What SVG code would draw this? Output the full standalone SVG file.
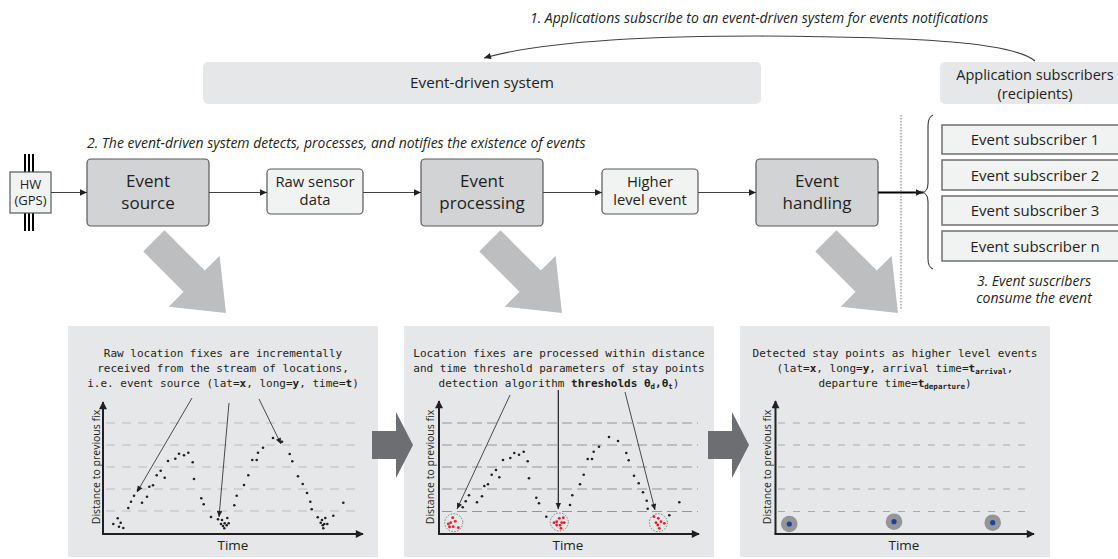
<svg xmlns="http://www.w3.org/2000/svg" width="1118" height="559" viewBox="0 0 1118 559">
<style>
.t{font-family:"Open Sans","Liberation Sans",sans-serif;fill:#231f20}
.it{font-family:"Open Sans","Liberation Sans",sans-serif;font-style:italic;font-size:14px;fill:#231f20}
.mono{font-family:"DejaVu Sans Mono","Liberation Mono",monospace;font-size:11px;fill:#231f20}
.b{font-weight:bold}
.sb{font-size:7.5px;font-weight:bold}
.big{fill:#d1d3d4;stroke:#58595b;stroke-width:1.2}
.sm{fill:#f1f2f2;stroke:#58595b;stroke-width:1.2}
.sub{fill:#f1f2f2;stroke:#6d6e71;stroke-width:1.5}
.grp{fill:#e6e7e8}
.conn{fill:none;stroke:#414042;stroke-width:1.2}
.pin{stroke:#000;stroke-width:2}
.ax{stroke:#231f20;stroke-width:2;fill:none}
.g1{stroke:#bcbec0;stroke-width:1.2;stroke-dasharray:9 7}
.g2{stroke:#939598;stroke-width:1.2;stroke-dasharray:10 5}
.g3{stroke:#a7a9ac;stroke-width:1.2;stroke-dasharray:7 8}
.pa{stroke:#231f20;stroke-width:0.8;fill:none}
.k circle{fill:#231f20}
.r circle{fill:#ed1c24}
.dc{fill:none;stroke:#6d6e71;stroke-width:0.9;stroke-dasharray:1.5 1.5}
.garrow{fill:#bcbec0}
.darrow{fill:#6d6e71}
</style>
<defs>
<marker id="ah" viewBox="0 0 10 10" refX="10" refY="5" markerWidth="8" markerHeight="7" markerUnits="userSpaceOnUse" orient="auto"><path d="M0,0.5 L10,5 L0,9.5 z" fill="#231f20"/></marker>
<marker id="pah" viewBox="0 0 10 10" refX="10" refY="5" markerWidth="7" markerHeight="6" markerUnits="userSpaceOnUse" orient="auto"><path d="M0,0.5 L10,5 L0,9.5 z" fill="#231f20"/></marker>
<marker id="axh" viewBox="0 0 10 10" refX="9" refY="5" markerWidth="9" markerHeight="8" markerUnits="userSpaceOnUse" orient="auto"><path d="M0,0 L10,5 L0,10 z" fill="#231f20"/></marker>
<polygon id="bigarrow" points="0,0 -45,-36 -45,-15 -102,-15 -102,15 -45,15 -45,36"/>
</defs>

<!-- top captions -->
<text class="it" x="530" y="23">1. Applications subscribe to an event-driven system for events notifications</text>
<text class="it" x="87" y="148">2. The event-driven system detects, processes, and notifies the existence of events</text>

<g id="event-driven-system">
<rect class="grp" x="203" y="62" width="558" height="42" rx="5"/>
<text class="t" x="482" y="88" font-size="15.3" text-anchor="middle">Event-driven system</text>
</g>
<g id="application-subscribers">
<rect class="grp" x="940" y="62" width="190" height="42" rx="5"/>
<text class="t" x="1035" y="80" font-size="14.5" text-anchor="middle">Application subscribers</text>
<text class="t" x="1035" y="98.5" font-size="14.5" text-anchor="middle">(recipients)</text>
</g>

<g id="hw-gps">
<line class="pin" x1="25" y1="154" x2="25" y2="172"/><line class="pin" x1="29" y1="154" x2="29" y2="172"/><line class="pin" x1="33" y1="154" x2="33" y2="172"/>
<line class="pin" x1="25" y1="213" x2="25" y2="231"/><line class="pin" x1="29" y1="213" x2="29" y2="231"/><line class="pin" x1="33" y1="213" x2="33" y2="231"/>
<rect class="sm" x="10" y="172" width="41" height="41"/>
<text class="t" x="30.5" y="189" font-size="13" text-anchor="middle">HW</text>
<text class="t" x="30.5" y="205" font-size="13" text-anchor="middle">(GPS)</text>
</g>
<g id="event-source">
<rect class="big" x="87" y="159" width="122" height="67" rx="4"/>
<text class="t" x="148" y="187" font-size="17" text-anchor="middle">Event</text>
<text class="t" x="148" y="209" font-size="17" text-anchor="middle">source</text>
</g>
<g id="raw-sensor-data">
<rect class="sm" x="267" y="169" width="96" height="45" rx="4"/>
<text class="t" x="315" y="187" font-size="14.8" text-anchor="middle">Raw sensor</text>
<text class="t" x="315" y="205" font-size="14.8" text-anchor="middle">data</text>
</g>
<g id="event-processing">
<rect class="big" x="421" y="159" width="122" height="67" rx="4"/>
<text class="t" x="482" y="187" font-size="17" text-anchor="middle">Event</text>
<text class="t" x="482" y="209" font-size="17" text-anchor="middle">processing</text>
</g>
<g id="higher-level-event">
<rect class="sm" x="602" y="169" width="96" height="45" rx="4"/>
<text class="t" x="650" y="187" font-size="14.8" text-anchor="middle">Higher</text>
<text class="t" x="650" y="205" font-size="14.8" text-anchor="middle">level event</text>
</g>
<g id="event-handling">
<rect class="big" x="756" y="159" width="122" height="67" rx="4"/>
<text class="t" x="817" y="187" font-size="17" text-anchor="middle">Event</text>
<text class="t" x="817" y="209" font-size="17" text-anchor="middle">handling</text>
</g>

<g id="subscriber-1"><rect class="sub" x="942" y="125" width="190" height="29"/><text class="t" x="1035" y="145" font-size="15" text-anchor="middle">Event subscriber 1</text></g>
<g id="subscriber-2"><rect class="sub" x="942" y="160" width="190" height="30"/><text class="t" x="1035" y="180.5" font-size="15" text-anchor="middle">Event subscriber 2</text></g>
<g id="subscriber-3"><rect class="sub" x="942" y="196" width="190" height="29"/><text class="t" x="1035" y="216" font-size="15" text-anchor="middle">Event subscriber 3</text></g>
<g id="subscriber-n"><rect class="sub" x="942" y="231" width="190" height="30"/><text class="t" x="1035" y="251.5" font-size="15" text-anchor="middle">Event subscriber n</text></g>

<text class="it" x="1034" y="286" text-anchor="middle" font-size="13">3. Event suscribers</text>
<text class="it" x="1034" y="303" text-anchor="middle" font-size="13">consume the event</text>

<g id="connectors">
<path class="conn" d="M1035,61 C1012,42 920,37 760,36 C640,36 540,42 484,58" marker-end="url(#ah)"/>
<line class="conn" x1="51" y1="192.5" x2="87" y2="192.5" marker-end="url(#ah)"/>
<line class="conn" x1="209" y1="192.5" x2="267" y2="192.5" marker-end="url(#ah)"/>
<line class="conn" x1="363" y1="192.5" x2="421" y2="192.5" marker-end="url(#ah)"/>
<line class="conn" x1="543" y1="192.5" x2="602" y2="192.5" marker-end="url(#ah)"/>
<line class="conn" x1="698" y1="192.5" x2="756" y2="192.5" marker-end="url(#ah)"/>
<line x1="878" y1="192.5" x2="923" y2="192.5" stroke="#000" stroke-width="2" marker-end="url(#ah)"/>
<line x1="901" y1="115" x2="901" y2="309" stroke="#6d6e71" stroke-width="1" stroke-dasharray="1.5 1.5"/>
<path d="M933,115 Q928,117 928,126 L928,183 Q928,192 922,192.5 Q928,193 928,202 L928,259 Q928,267 933,269" fill="none" stroke="#231f20" stroke-width="1"/>
</g>

<!-- big diagonal arrows -->
<use href="#bigarrow" class="garrow" transform="translate(226,313) rotate(45)"/>
<use href="#bigarrow" class="garrow" transform="translate(562,313) rotate(45)"/>
<use href="#bigarrow" class="garrow" transform="translate(898,313) rotate(45)"/>

<!-- panels -->
<rect class="grp" x="68" y="326" width="310" height="231"/>
<rect class="grp" x="404" y="326" width="310" height="231"/>
<rect class="grp" x="740" y="326" width="310" height="231"/>

<!-- dark arrows between panels -->
<polygon class="darrow" points="372,431 396,431 396,412 413,445 396,478 396,459 372,459"/>
<polygon class="darrow" points="708,431 732,431 732,412 749,445 732,478 732,459 708,459"/>

<!-- Panel 1 -->
<g id="panel-1">
<text class="mono" x="223" y="357" text-anchor="middle">Raw location fixes are incrementally</text>
<text class="mono" x="223" y="372" text-anchor="middle">received from the stream of locations,</text>
<text class="mono" x="223" y="387" text-anchor="middle">i.e. event source (lat=<tspan class="b">x</tspan>, long=<tspan class="b">y</tspan>, time=<tspan class="b">t</tspan>)</text>
<line class="g1" x1="106" y1="423" x2="358" y2="423"/>
<line class="g1" x1="106" y1="445" x2="358" y2="445"/>
<line class="g1" x1="106" y1="467" x2="358" y2="467"/>
<line class="g1" x1="106" y1="489" x2="358" y2="489"/>
<line class="g1" x1="106" y1="511" x2="358" y2="511"/>
<path class="ax" d="M103,534 L103,402" marker-end="url(#axh)"/>
<path class="ax" d="M102,534 L363,534" marker-end="url(#axh)"/>
<text class="t" x="100" y="467" font-size="10.5" text-anchor="middle" transform="rotate(-90 100 467)">Distance to previous fix</text>
<text class="t" x="233" y="550" font-size="13.5" text-anchor="middle">Time</text>
<g class="k">
<circle cx="113.3" cy="524" r="1.3"/><circle cx="117.7" cy="518.3" r="1.3"/><circle cx="120.7" cy="522.7" r="1.3"/><circle cx="119" cy="526.7" r="1.3"/><circle cx="123.3" cy="528" r="1.3"/>
<circle cx="128.3" cy="508" r="1.3"/><circle cx="131" cy="501.7" r="1.3"/><circle cx="134" cy="495.7" r="1.3"/><circle cx="138" cy="490" r="1.3"/><circle cx="142" cy="502.7" r="1.3"/><circle cx="147" cy="496.7" r="1.3"/><circle cx="149.3" cy="486.7" r="1.3"/><circle cx="153" cy="485.3" r="1.3"/><circle cx="156.7" cy="475.3" r="1.3"/><circle cx="160.7" cy="470.7" r="1.3"/><circle cx="164.7" cy="477.7" r="1.3"/><circle cx="168" cy="461" r="1.3"/><circle cx="175.3" cy="458.7" r="1.3"/><circle cx="179" cy="453.7" r="1.3"/><circle cx="184" cy="455.3" r="1.3"/><circle cx="188.3" cy="452.7" r="1.3"/><circle cx="192.7" cy="462.3" r="1.3"/><circle cx="194" cy="479" r="1.3"/><circle cx="201.3" cy="498.3" r="1.3"/><circle cx="203.7" cy="504.3" r="1.3"/><circle cx="211" cy="517" r="1.3"/>
<circle cx="218" cy="519.3" r="1.3"/><circle cx="222" cy="520" r="1.3"/><circle cx="224.7" cy="523.3" r="1.3"/><circle cx="227.3" cy="518" r="1.3"/><circle cx="221" cy="524" r="1.3"/><circle cx="223" cy="526" r="1.3"/><circle cx="228.7" cy="523.3" r="1.3"/><circle cx="224.3" cy="528.3" r="1.3"/><circle cx="226.7" cy="525.3" r="1.3"/>
<circle cx="234.3" cy="505.3" r="1.3"/><circle cx="236.7" cy="495.7" r="1.3"/><circle cx="244" cy="485" r="1.3"/><circle cx="248.3" cy="475.3" r="1.3"/><circle cx="252.3" cy="460" r="1.3"/><circle cx="256.7" cy="460" r="1.3"/><circle cx="258" cy="452.7" r="1.3"/><circle cx="263" cy="447.7" r="1.3"/><circle cx="273" cy="438" r="1.3"/><circle cx="282" cy="441.7" r="1.3"/><circle cx="289.7" cy="454" r="1.3"/><circle cx="292.3" cy="461.3" r="1.3"/><circle cx="298" cy="476.3" r="1.3"/><circle cx="302.7" cy="484" r="1.3"/><circle cx="307" cy="493" r="1.3"/><circle cx="310.3" cy="501.7" r="1.3"/><circle cx="311.7" cy="509.3" r="1.3"/><circle cx="317.7" cy="517.3" r="1.3"/>
<circle cx="322" cy="520" r="1.3"/><circle cx="325.3" cy="518" r="1.3"/><circle cx="320.7" cy="522.7" r="1.3"/><circle cx="324.3" cy="524" r="1.3"/><circle cx="327.3" cy="524" r="1.3"/><circle cx="322.7" cy="525.3" r="1.3"/><circle cx="323.3" cy="528.3" r="1.3"/>
<circle cx="333.3" cy="515.7" r="1.3"/><circle cx="343.3" cy="502.7" r="1.3"/>
</g>
<line class="pa" x1="192" y1="398" x2="137" y2="492" marker-end="url(#pah)"/>
<line class="pa" x1="229" y1="403" x2="219" y2="517" marker-end="url(#pah)"/>
<line class="pa" x1="259" y1="399" x2="281" y2="444" marker-end="url(#pah)"/>
</g>

<!-- Panel 2 -->
<g id="panel-2">
<text class="mono" x="559" y="357" text-anchor="middle">Location fixes are processed within distance</text>
<text class="mono" x="559" y="372" text-anchor="middle">and time threshold parameters of stay points</text>
<text class="mono" x="559" y="387" text-anchor="middle">detection algorithm <tspan class="b">thresholds θ<tspan class="sb" dy="2">d</tspan><tspan dy="-2">,θ</tspan><tspan class="sb" dy="2">t</tspan></tspan><tspan dy="-2">)</tspan></text>
<line class="g2" x1="442" y1="423" x2="698" y2="423"/>
<line class="g2" x1="442" y1="445" x2="698" y2="445"/>
<line class="g2" x1="442" y1="467" x2="698" y2="467"/>
<line class="g2" x1="442" y1="489" x2="698" y2="489"/>
<line class="g2" x1="442" y1="511.5" x2="698" y2="511.5"/>
<path class="ax" d="M439,534 L439,401" marker-end="url(#axh)"/>
<path class="ax" d="M438,534 L699,534" marker-end="url(#axh)"/>
<text class="t" x="434" y="467" font-size="10.5" text-anchor="middle" transform="rotate(-90 434 467)">Distance to previous fix</text>
<text class="t" x="568" y="550" font-size="13.5" text-anchor="middle">Time</text>
<g class="k">
<circle cx="462.7" cy="507.3" r="1.3"/><circle cx="465.7" cy="501.3" r="1.3"/><circle cx="469" cy="495.3" r="1.3"/><circle cx="477" cy="502.3" r="1.3"/><circle cx="482" cy="496.3" r="1.3"/><circle cx="484.3" cy="486" r="1.3"/><circle cx="488" cy="484.3" r="1.3"/><circle cx="491.7" cy="474.7" r="1.3"/><circle cx="496" cy="470" r="1.3"/><circle cx="499.3" cy="477.3" r="1.3"/><circle cx="503" cy="460" r="1.3"/><circle cx="510.3" cy="458" r="1.3"/><circle cx="514.3" cy="453" r="1.3"/><circle cx="519" cy="454.7" r="1.3"/><circle cx="523.7" cy="451.7" r="1.3"/><circle cx="527.7" cy="461.3" r="1.3"/><circle cx="529" cy="478.3" r="1.3"/><circle cx="536.3" cy="497.7" r="1.3"/><circle cx="539" cy="503.3" r="1.3"/><circle cx="546.3" cy="516.7" r="1.3"/>
<circle cx="570" cy="505" r="1.3"/><circle cx="572.3" cy="495.3" r="1.3"/><circle cx="580" cy="484.3" r="1.3"/><circle cx="583.7" cy="474.7" r="1.3"/><circle cx="587.7" cy="459" r="1.3"/><circle cx="592" cy="459" r="1.3"/><circle cx="593.7" cy="451.7" r="1.3"/><circle cx="599" cy="446.7" r="1.3"/><circle cx="609" cy="437" r="1.3"/><circle cx="618" cy="441" r="1.3"/><circle cx="626.3" cy="453" r="1.3"/><circle cx="628.7" cy="460.3" r="1.3"/><circle cx="634" cy="475.7" r="1.3"/><circle cx="638.7" cy="483.3" r="1.3"/><circle cx="643" cy="492.3" r="1.3"/><circle cx="646.7" cy="500.7" r="1.3"/><circle cx="647.7" cy="508.7" r="1.3"/><circle cx="669.3" cy="515.3" r="1.3"/><circle cx="679.3" cy="502.3" r="1.3"/>
</g>
<circle class="dc" cx="453.7" cy="522.7" r="9"/>
<circle class="dc" cx="559.3" cy="522" r="9"/>
<circle class="dc" cx="658.3" cy="522.7" r="9"/>
<g class="r">
<circle cx="448.3" cy="524" r="1.4"/><circle cx="450.7" cy="522.7" r="1.4"/><circle cx="452.7" cy="517.7" r="1.4"/><circle cx="455.3" cy="521.3" r="1.4"/><circle cx="453.3" cy="526.7" r="1.4"/><circle cx="458.3" cy="527.7" r="1.4"/><circle cx="449.5" cy="527" r="1.4"/>
<circle cx="554" cy="522.7" r="1.4"/><circle cx="556.7" cy="521.7" r="1.4"/><circle cx="559.3" cy="518.3" r="1.4"/><circle cx="563.3" cy="517.7" r="1.4"/><circle cx="561.7" cy="522.7" r="1.4"/><circle cx="564.3" cy="522.7" r="1.4"/><circle cx="556.7" cy="525" r="1.4"/><circle cx="560" cy="525.3" r="1.4"/><circle cx="561" cy="528.3" r="1.4"/>
<circle cx="654" cy="516.7" r="1.4"/><circle cx="658.3" cy="518.3" r="1.4"/><circle cx="656" cy="522.7" r="1.4"/><circle cx="661" cy="521.7" r="1.4"/><circle cx="664.3" cy="523.3" r="1.4"/><circle cx="657.7" cy="525" r="1.4"/><circle cx="659.3" cy="528.3" r="1.4"/>
</g>
<line class="pa" x1="510" y1="395" x2="457" y2="509" marker-end="url(#pah)"/>
<line x1="558.3" y1="390" x2="558.3" y2="509" stroke="#231f20" stroke-width="1.2" marker-end="url(#pah)"/>
<line class="pa" x1="625" y1="392" x2="655" y2="510" marker-end="url(#pah)"/>
</g>

<!-- Panel 3 -->
<g id="panel-3">
<text class="mono" x="895" y="357" text-anchor="middle">Detected stay points as higher level events</text>
<text class="mono" x="895" y="372" text-anchor="middle">(lat=<tspan class="b">x</tspan>, long=<tspan class="b">y</tspan>, arrival time=<tspan class="b">t</tspan><tspan class="sb" dy="2">arrival</tspan><tspan dy="-2">,</tspan></text>
<text class="mono" x="895" y="387" text-anchor="middle">departure time=<tspan class="b">t</tspan><tspan class="sb" dy="2">departure</tspan><tspan dy="-2">)</tspan></text>
<line class="g3" x1="778" y1="423" x2="1030" y2="423"/>
<line class="g3" x1="778" y1="445" x2="1030" y2="445"/>
<line class="g3" x1="778" y1="467" x2="1030" y2="467"/>
<line class="g3" x1="778" y1="489" x2="1030" y2="489"/>
<line class="g3" x1="778" y1="511.5" x2="1030" y2="511.5"/>
<path class="ax" d="M775.5,534 L775.5,401" marker-end="url(#axh)"/>
<path class="ax" d="M774.5,534 L1034,534" marker-end="url(#axh)"/>
<text class="t" x="771" y="467" font-size="10.5" text-anchor="middle" transform="rotate(-90 771 467)">Distance to previous fix</text>
<text class="t" x="904" y="550" font-size="13.5" text-anchor="middle">Time</text>
<circle cx="789.3" cy="524" r="8.3" fill="#939598"/><circle cx="789.3" cy="524" r="2.6" fill="#21409a"/>
<circle cx="894" cy="521.7" r="8.3" fill="#939598"/><circle cx="894" cy="521.7" r="2.6" fill="#21409a"/>
<circle cx="992.7" cy="522.7" r="8.3" fill="#939598"/><circle cx="992.7" cy="522.7" r="2.6" fill="#21409a"/>
</g>
</svg>
